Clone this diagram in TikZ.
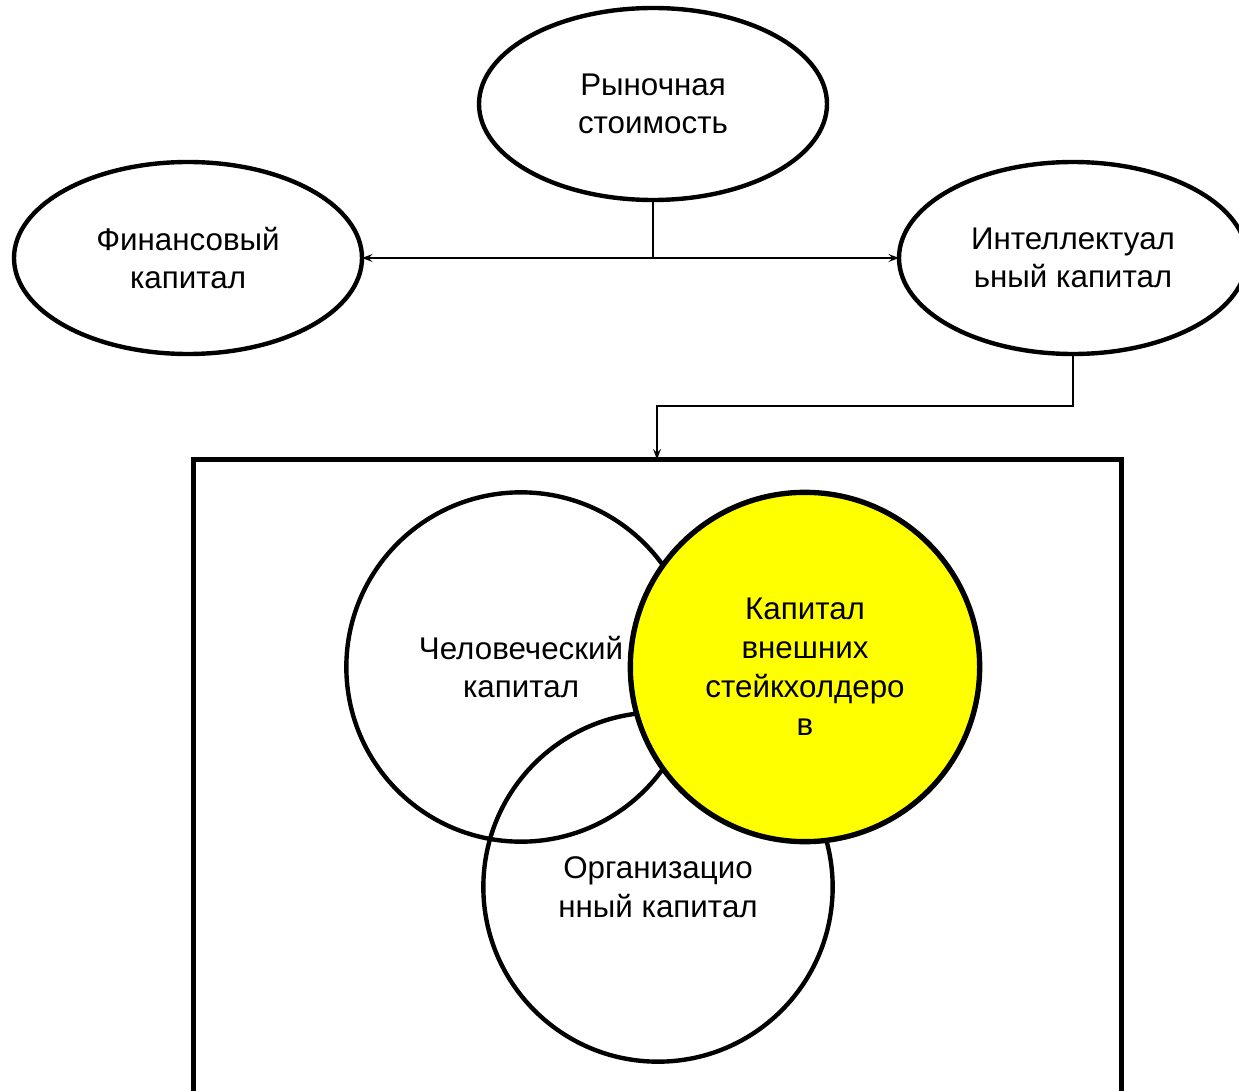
\documentclass[tikz,border=0pt]{standalone}
\usepackage{fontspec}
\setmainfont{Liberation Sans}
\usetikzlibrary{shapes.geometric,arrows.meta}
\definecolor{extfill}{RGB}{255,255,0}
\begin{document}
\begin{tikzpicture}[x=0.75pt,y=-0.75pt,
  lbl/.style={font=\fontsize{23.5}{29}\selectfont, align=center},
  oval/.style={ellipse, draw, line width=3.3pt, minimum width=261pt, minimum height=144pt, inner sep=0pt, outer sep=0pt, lbl},
  part/.style={circle, draw, line width=3.3pt, minimum size=262pt, inner sep=0pt, outer sep=0pt, lbl},
  conn/.style={line width=1.4pt, -{Stealth[length=8pt,width=6pt,inset=3pt]}},
  line/.style={line width=1.4pt}]
\clip (0,0) rectangle (1239,1091);
\fill[white] (0,0) rectangle (1239,1091);

% top level
\node[oval] (market) at (653,104) {Рыночная\\стоимость};
\node[oval] (fin) at (188,258) {Финансовый\\капитал};
\node[oval] (intel) at (1073,258) {Интеллектуал\\ьный капитал};

\coordinate (split) at (653,258);
\draw[line] (market.south) -- (split);
\draw[conn] (split) -- (fin.east);
\draw[conn] (split) -- (intel.west);

% frame of the components
\node[draw, line width=3.4pt, minimum width=696pt, minimum height=600pt, anchor=north west, inner sep=0pt, outer sep=0pt] (frame) at (193.5,459.5) {};
\coordinate (bend) at (657,406);
\draw[conn] (intel.south) |- (bend) -- (bend |- frame.north);

% components of intellectual capital
\node[part] (human) at (521,667) {Человеческий\\капитал};
\node[part] (org) at (658,887) {Организацио\\нный капитал};
\node[part, fill=extfill, line width=4pt] (ext) at (805,667) {Капитал\\внешних\\стейкхолдеро\\в};
\end{tikzpicture}
\end{document}
